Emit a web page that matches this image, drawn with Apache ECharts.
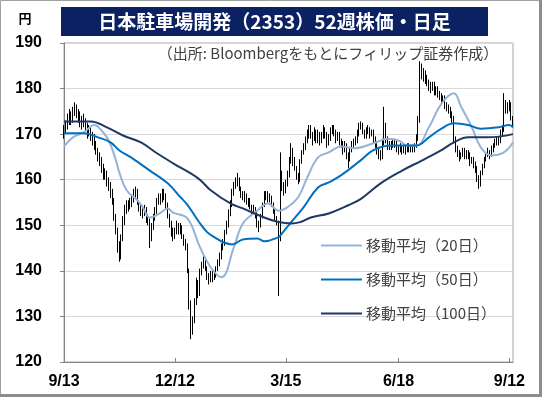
<!DOCTYPE html>
<html>
<head>
<meta charset="utf-8">
<script src="https://cdn.jsdelivr.net/npm/echarts@6/dist/echarts.min.js"></script>
<style>
  html, body { margin: 0; padding: 0; background: #fff; }
  #main { width: 542px; height: 397px; }
</style>
</head>
<body>
<div id="main"></div>
<script>
var chart = echarts.init(document.getElementById('main'));

// 日足 [始値, 終値, 安値, 高値]
var candles = [
  [170,171,169,172],[171,172.5,170,173],[172.5,173,171,174.5],[173,174,172,175.5],[174,173,172,175],
  [173,175,172.5,176],[175,175.5,174,177],[175.5,174.5,173.5,176.5],[174.5,174,172.5,175.5],[174,173,171.5,175],
  [173,172.5,171,174],[172.5,173,171.5,174.5],[173,172,170.5,173.5],[172,170,169,172.5],[170,171,169.5,172],
  [171,169.5,168.5,171.5],[169.5,169,167.5,170.5],[169,168,166.5,170],[168,166.5,165.5,168.5],[166.5,165,164,167],
  [165,164.5,163,166],[164.5,162.5,161.5,165],[162.5,161,160,163.5],[161,161.5,160,162.5],[161.5,159.5,158.5,162],
  [159.5,159,157.5,160.5],[159,157,156,159.5],[157,155.5,154.5,158],[155.5,152,151,156],[152,149,148,152.5],
  [149,145,144,149.5],[145,143,142,146.5],[143,147,142.5,148],[147,151,146.5,152],[151,153.5,150,154.5],
  [153.5,154.5,152.5,155.5],[154.5,154,153,155.5],[154,155,153.5,156],[155,155.5,154,156.5],[155.5,157,155,158],
  [157,157.5,156,158.5],[157.5,155,154.5,158],[155,154,153,155.5],[154,153,152,154.5],[153,152.5,151.5,154],
  [152.5,153.5,152,154.5],[153.5,151.5,150.5,154],[151.5,151,150,152.5],[151,147,145,151.5],[147,149.5,146.5,150.5],
  [149.5,151.5,149,152.5],[151.5,153,151,154],[153,155,152.5,156],[155,156,154.5,157],[156,155.5,154.5,157],
  [155.5,157,155,158],[157,156.5,155.5,158],[156.5,154.5,153.5,157],[154.5,152,151.5,155],[152,150.5,149.5,152.5],
  [150.5,148.5,147.5,151],[148.5,147.5,146.5,149.5],[147.5,148.5,147,149.5],[148.5,150,148,151],[150,149,148,150.5],
  [149,149.5,148,150.5],[149.5,147.5,147,150],[147.5,146.5,145.5,148],[146.5,145.5,144.5,147],[145.5,140,139.5,146],
  [140,133,131.5,140.5],[133,127,125,133.5],[127,129,126,130],[129,133,128.5,134],[133,137.5,132.5,138.5],
  [137.5,135,134,138],[135,140,134.5,140.5],[140,141,139,142],[141,142.5,140.5,143.5],[142.5,140.5,140,143],
  [140.5,139,138,141],[139,138,137,139.5],[138,139.5,137.5,140],[139.5,138.5,137.5,140],[138.5,139,138,140],
  [139,140.5,138.5,141],[140.5,141.5,140,142.5],[141.5,143,141,144],[143,145,142.5,146],[145,146,144.5,147],
  [146,148.5,145.5,149],[148.5,150,148,151],[150,152.5,149.5,153.5],[152.5,154.5,152,155.5],[154.5,157,154,158],
  [157,158.5,156.5,159.5],[158.5,159.5,158,160.5],[159.5,160,158.5,161.5],[160,158,157.5,160.5],[158,157,156,158.5],
  [157,156,155.5,157.5],[156,156.5,155,157.5],[156.5,155,154.5,157],[155,155.5,154,156],[155.5,154,153.5,156],
  [154,153,152,154.5],[153,153.5,152.5,154.5],[153.5,152.5,151.5,154],[152.5,150.5,149.5,153],[150.5,150,148.5,151],
  [150,152,149.5,152.5],[152,154.5,151.5,155],[154.5,156.5,154,157.5],[156.5,157,155.5,157.5],[157,155.5,155,157.5],
  [155.5,156,155,157],[156,154.5,154,156.5],[154.5,153,152.5,155],[153,151.5,151,153.5],[151.5,150.5,150,152],
  [150.5,147,134.5,151],[147,160,146.5,166],[160,158.5,157.5,162],[158.5,157.5,156.5,159.5],[157.5,159,157,160],
  [159,161,158.5,162],[161,164,160.5,165],[164,166,163.5,168],[166,164,163,167],[164,162.5,162,165],
  [162.5,160.5,160,163],[160.5,160,159,161.5],[160,164,159.5,164.5],[164,166,163.5,166.5],[166,167,165.5,168],
  [167,168.5,166.5,169.5],[168.5,170,168,171],[170,171,169,172],[171,170,169,172],[170,169,167.5,170.5],
  [169,170.5,168.5,171.5],[170.5,169,168,171],[169,170,168,171],[170,168.5,167.5,170.5],[168.5,169.5,168,170.5],
  [169.5,171,169,172],[171,170,169,171.5],[170,168,167,170.5],[168,169,167.5,170],[169,170.5,168.5,171.5],
  [170.5,171,170,172],[171,170.5,169.5,172],[170.5,169,168,171],[169,170,168.5,170.5],[170,168.5,167.5,170.5],
  [168.5,168,167,169],[168,166.5,165.5,168.5],[166.5,167.5,166,168.5],[167.5,165.5,164.5,168],[165.5,164.5,162.5,166],
  [164.5,166.5,164,167],[166.5,167.5,166,168.5],[167.5,168,167,169],[168,168.5,167.5,169.5],[168.5,170,168,171],
  [170,171.5,169.5,172.5],[171.5,172,171,172.8],[172,170.5,170,172.5],[170.5,169.5,169,171],[169.5,170.5,169,171.5],
  [170.5,171,170,172],[171,170,169,171.5],[170,170.5,169.5,171],[170.5,169,168,171],[169,168,167,169.5],
  [168,166.5,165.5,168.5],[166.5,165.5,164.5,167],[165.5,165,164.2,166.5],[165,168,164.5,169],[168,172,167.5,176],
  [172,169,168,172.5],[169,167,166.5,169.5],[167,168,166.5,168.5],[168,167.5,166.5,168.5],[167.5,168.5,167,169],
  [168.5,168,167,169],[168,167,166,168.5],[167,166.5,165.5,167.5],[166.5,167,166,168],[167,166,165.5,167.5],
  [166,167,165.8,167.5],[167,166.5,165.5,167.5],[166.5,167.5,166,168],[167.5,166.5,166,168],[166.5,167,166,167.5],
  [167,166.5,166,167.5],[166.5,167.5,166,168],[167.5,169,167,170],[169,173,168.5,174],[173,183,172.5,186],
  [183,184,182,185.5],[184,183,181.5,184.5],[183,182,181,184],[182,181.5,180.5,183],[181.5,180.5,179.5,182],
  [180.5,180,179,181.5],[180,181,179.5,181.5],[181,179.5,178.5,181.5],[179.5,180,178.5,180.5],[180,179,178,180.5],
  [179,178.5,177.5,179.5],[178.5,177.5,176.5,179],[177.5,178,177,178.5],[178,176.5,175.5,178.5],[176.5,176,175,177],
  [176,175.5,174.5,176.5],[175.5,174.5,173.5,176],[174.5,173.5,172.5,175],[173.5,169,168,174],[169,167,166,169.5],
  [167,166,165,167.5],[166,165,164,166.5],[165,165.5,164.5,166],[165.5,166.5,165,167],[166.5,165,164.5,167],
  [165,166,164.5,166.5],[166,165.5,164.5,166.5],[165.5,164,163,166],[164,164.5,163.5,165],[164.5,163.5,162.5,165],
  [163.5,162.5,161.5,164],[162.5,160.5,159.5,163],[160.5,159,158,161],[159,161.5,158.5,162],[161.5,163,161,163.5],
  [163,164.5,162.5,165],[164.5,165.5,164,166],[165.5,166,165,167],[166,165.5,164.5,166.5],[165.5,166.5,165,167.5],
  [166.5,167.5,166,168],[167.5,168,167,169],[168,169,167.5,169.5],[169,168.5,167.5,169.5],[168.5,170,168,171],
  [170,171,169.5,172],[171,177,170.5,179],[177,175,174.5,177.5],[175,176,174.5,177],[176,176.5,175,177.5],
  [176.5,173.5,173,177],[173.5,172,171.5,174]
];

// 移動平均 [日インデックス, 値]
var ma20 = [[0,167.3],[5,169.3],[11,170.4],[17,172],[21,170.8],[25,168.6],[29,164.3],[31,161.5],[35,157.7],
  [41,155.5],[44,154],[48,151.7],[53,152.5],[58,153.7],[61,152.8],[69,151.5],[76,145.2],[82,140.8],[88,138.6],
  [95,145.2],[100,150.4],[108,153.2],[114,154.8],[120,153.2],[125,154],[131,156.2],[136,160.5],[142,164.9],
  [148,166],[155,167.3],[162,166.9],[173,168],[181,169],[187,168.6],[192,167.5],[197,167.5],[204,171.5],
  [211,176.7],[218,179],[222,176],[228,171.5],[233,167.1],[239,165.3],[245,165.8],[249,167.1],[251,168.2]];
var ma50 = [[0,170.2],[11,170.2],[19,169.3],[26,168.2],[31,166.4],[37,165],[48,162],[58,159.2],[65,156.2],
  [69,154.5],[75,151],[80,148.5],[84,147.4],[89,146.3],[94,145.8],[100,146.9],[108,147.1],[112,146.5],
  [120,147.4],[121,147.8],[127,150.7],[134,154],[142,158.3],[148,159.4],[155,161],[166,164.3],[173,166.5],
  [183,167.5],[197,167.5],[204,169.3],[211,171.2],[218,172.4],[226,172],[233,171.2],[243,171.5],[249,172],[251,171.5]];
var ma100 = [[0,172.8],[15,172.8],[24,171.5],[33,169.7],[43,168.2],[52,165.8],[61,163.6],[75,160.3],[82,157.7],
  [93,154.8],[100,153.7],[112,151.7],[120,150.7],[127,150.4],[132,150.7],[138,151.7],[148,152.6],[159,154.4],
  [166,155.8],[177,159.2],[189,162],[200,164.2],[211,166.5],[218,168.2],[226,169.3],[237,169.3],[251,170]];

var tickIndex = [0, 62, 124, 187, 249];
var tickLabels = ['9/13', '12/12', '3/15', '6/18', '9/12'];
var seriesNames = ['移動平均（20日）', '移動平均（50日）', '移動平均（100日）'];

var categories = candles.map(function (d, i) { return String(i); });

function isTick(idx) {
  return tickIndex.indexOf(idx) >= 0;
}

var option = {
  animation: false,
  grid: {
    left: 64, right: 29, top: 43, bottom: 35,
    show: true, borderColor: '#a6a6a6', borderWidth: 1
  },
  legend: {
    orient: 'vertical',
    left: 316, top: 233,
    icon: 'rect',
    itemWidth: 41, itemHeight: 2, itemGap: 19,
    textStyle: { fontSize: 15, color: '#404040', fontFamily: 'Noto Sans CJK JP', padding: [0, 0, 0, -1] },
    data: seriesNames
  },
  xAxis: {
    type: 'category',
    data: categories,
    boundaryGap: false,
    axisLine: { lineStyle: { color: '#868686' } },
    axisTick: { inside: true, length: 4, interval: function (idx) { return isTick(idx); }, lineStyle: { color: '#868686' } },
    axisLabel: {
      interval: function (idx) { return isTick(idx); },
      formatter: function (v, idx) { var k = tickIndex.indexOf(idx); return k >= 0 ? tickLabels[k] : ''; },
      margin: 12, fontSize: 16, fontWeight: 'bold', color: '#000', fontFamily: 'Liberation Sans'
    },
    splitLine: { show: false }
  },
  yAxis: {
    type: 'value',
    min: 120, max: 190, interval: 10,
    axisLine: { show: true, lineStyle: { color: '#868686' } },
    axisTick: { show: true, length: 4, lineStyle: { color: '#868686' } },
    axisLabel: { margin: 22, fontSize: 16, fontWeight: 'bold', color: '#000', fontFamily: 'Liberation Sans' },
    splitLine: { lineStyle: { color: '#d9d9d9' } }
  },
  graphic: [
    { type: 'rect', shape: { x: 0.5, y: 0.5, width: 540, height: 395 }, style: { fill: 'none', stroke: '#a0a0a0', lineWidth: 1 } },
    { type: 'rect', shape: { x: 0, y: 394, width: 542, height: 3 }, style: { fill: '#8c8c8c' } },
    { type: 'rect', shape: { x: 539, y: 0, width: 3, height: 397 }, style: { fill: '#8c8c8c' } },
    { type: 'rect', shape: { x: 61, y: 7, width: 427, height: 29 }, style: { fill: '#0b2162' } },
    { type: 'text', x: 274.5, y: 21.5, style: { text: '日本駐車場開発（2353）52週株価・日足', fill: '#fff', font: 'bold 19px "Noto Sans CJK JP"', textAlign: 'center', textVerticalAlign: 'middle' } },
    { type: 'text', x: 25, y: 18.5, style: { text: '円', fill: '#000', font: 'bold 13px "Noto Sans CJK JP"', textAlign: 'center', textVerticalAlign: 'middle' } },
    { type: 'text', x: 328, y: 53, style: { text: '（出所: Bloombergをもとにフィリップ証券作成）', fill: '#404040', font: '15px "Noto Sans CJK JP"', textAlign: 'center', textVerticalAlign: 'middle' } }
  ],
  series: [
    {
      type: 'candlestick',
      data: candles.map(function (d) { return [d[0], d[1], d[2], d[3]]; }),
      barWidth: 1,
      itemStyle: { color: '#000', color0: '#000', borderColor: '#000', borderColor0: '#000', borderWidth: 1 }
    },
    { name: seriesNames[0], type: 'line', data: ma20, symbol: 'none', smooth: 0.4, lineStyle: { color: '#95b3d7', width: 2 }, itemStyle: { color: '#95b3d7' } },
    { name: seriesNames[1], type: 'line', data: ma50, symbol: 'none', smooth: 0.4, lineStyle: { color: '#0070c0', width: 2 }, itemStyle: { color: '#0070c0' } },
    { name: seriesNames[2], type: 'line', data: ma100, symbol: 'none', smooth: 0.4, lineStyle: { color: '#1f3864', width: 2 }, itemStyle: { color: '#1f3864' } }
  ]
};

chart.setOption(option);
</script>
</body>
</html>
